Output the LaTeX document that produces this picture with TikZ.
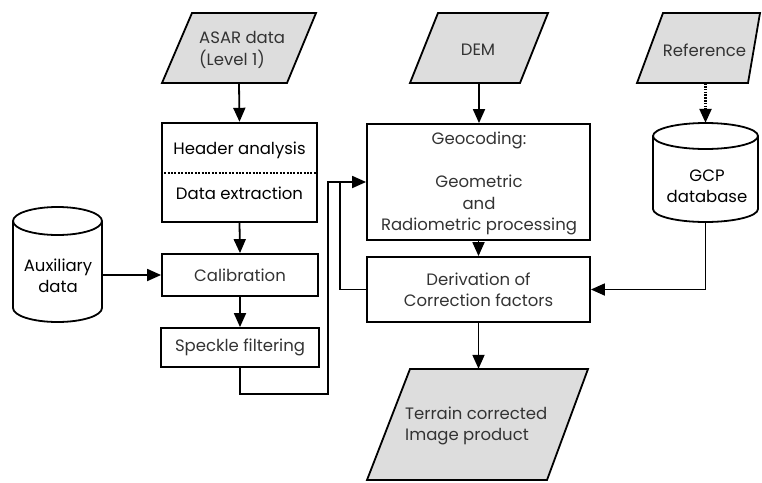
\documentclass[tikz,border=0pt]{standalone}
\usepackage{fontspec}
\setmainfont{Poppins}
\usetikzlibrary{arrows.meta}
\definecolor{parafill}{HTML}{DDDDDD}
\definecolor{txtgray}{HTML}{333333}
\begin{document}
\begin{tikzpicture}[x=1pt,y=-1pt,
  font=\fontsize{16.5}{21.5}\selectfont,
  box/.style={draw, line width=1.8pt, rectangle, inner sep=0pt},
  slot/.style={rectangle, inner sep=0pt},
  para/.style={draw, fill=parafill, line width=1.8pt, line join=miter},
  cyl/.style={draw, fill=white, line width=1.8pt},
  conn/.style={line width=1.8pt, -{Triangle[length=14pt,width=12pt]}},
  wire/.style={line width=1.8pt},
  lbl/.style={align=center, text=txtgray, inner sep=0pt},
  lblk/.style={align=center, text=black, inner sep=0pt}]
\useasboundingbox (0,0) rectangle (762,482);

% ---------- slots (named geometry) ----------
\node[slot, minimum width=154pt, minimum height=70pt] (asar) at (239,48) {};
\node[slot, minimum width=138pt, minimum height=70pt] (dem) at (479,48) {};
\node[slot, minimum width=123pt, minimum height=70pt] (ref) at (698.5,48) {};
\node[slot, minimum width=221pt, minimum height=111pt] (ter) at (477.5,424.5) {};
\node[slot, minimum width=89pt, minimum height=115pt] (aux) at (57.5,264.5) {};
\node[slot, minimum width=105pt, minimum height=99pt] (gcp) at (705.5,172.5) {};

% ---------- parallelograms ----------
\draw[para] (192,13) -- (316,13) -- (287,83) -- (162,83) -- cycle;
\draw[para] (438,13) -- (548,13) -- (520,83) -- (410,83) -- cycle;
\draw[para] (663,13) -- (760,13) -- (748,83) -- (637,83) -- cycle;
\draw[para] (410,369) -- (588,369) -- (547,480) -- (367,480) -- cycle;

% ---------- cylinders ----------
\draw[cyl] (13,221) -- (13,308) arc[start angle=180, end angle=360, x radius=44.5pt, y radius=14pt] -- (102,221);
\draw[cyl] (57.5,221) ellipse[x radius=44.5pt, y radius=14pt];
\draw[cyl] (653,136) -- (653,209) arc[start angle=180, end angle=360, x radius=52.5pt, y radius=13pt] -- (758,136);
\draw[cyl] (705.5,136) ellipse[x radius=52.5pt, y radius=13pt];

% ---------- boxes ----------
\node[box, line width=2.4pt, minimum width=155pt, minimum height=99pt] (hdr) at (239.5,172.5) {};
\draw[line width=2pt, dash pattern=on 2pt off 1.4pt] (hdr.west |- 0,173) -- (hdr.east |- 0,173);
\node[box, minimum width=156pt, minimum height=42pt] (cal) at (240,275) {};
\node[box, minimum width=158pt, minimum height=39pt] (spk) at (240,347.5) {};
\node[box, minimum width=223pt, minimum height=116pt] (geo) at (478.5,182) {};
\node[box, minimum width=223pt, minimum height=65pt] (der) at (478.5,289.5) {};

% ---------- texts ----------
\node[lbl, align=left, anchor=west] (asarT) at (199,50) {ASAR data\\(Level 1)};
\node[lbl] (demT) at (478,50) {DEM};
\node[lbl] (refT) at (704.5,50) {Reference};
\node[lblk] (hdrT1) at (239.5,150) {Header analysis};
\node[lblk] (hdrT2) at (239.5,193) {Data extraction};
\node[lbl] (calT) at (cal) {Calibration};
\node[lbl] (spkT) at (spk) {Speckle filtering};
\node[lblk] (auxT) at (58,276) {Auxiliary\\data};
\node[lblk] (gcpT) at (707,186) {GCP\\database};
\node[lbl] (geoT) at (479,183.5) {Geocoding:\\[21.5pt]Geometric\\and\\Radiometric processing};
\node[lbl] (derT) at (478.5,290) {Derivation of\\Correction factors};
\node[lbl, align=left, anchor=west] (terT) at (405,426) {Terrain corrected\\Image product};

% ---------- connectors ----------
\draw[conn] (asar.south) -- (hdr.north);
\draw[conn] (hdr.south) -- (cal.north);
\draw[conn] (cal.south) -- (spk.north);
\draw[conn] (aux.east |- cal.west) -- (cal.west);
\draw[conn] (dem.south) -- (dem.south |- geo.north);
\draw[conn] (geo.south) -- (der.north);
\draw[conn] (der.south) -- (der.south |- ter.north);
\draw[conn] (spk.south) -- ++(0,26) -| ([xshift=-38pt]geo.west) -- (geo.west);
\draw[wire] (der.west) -- ([xshift=-26pt]der.west) |- ([xshift=-26pt]geo.west);
\draw[conn] (gcp.south) |- (der.east);
\draw[line width=2.4pt, dash pattern=on 1.6pt off 1.2pt, -{Triangle[length=14pt,width=12pt]}] (gcp.north |- ref.south) -- (gcp.north);
\end{tikzpicture}
\end{document}
